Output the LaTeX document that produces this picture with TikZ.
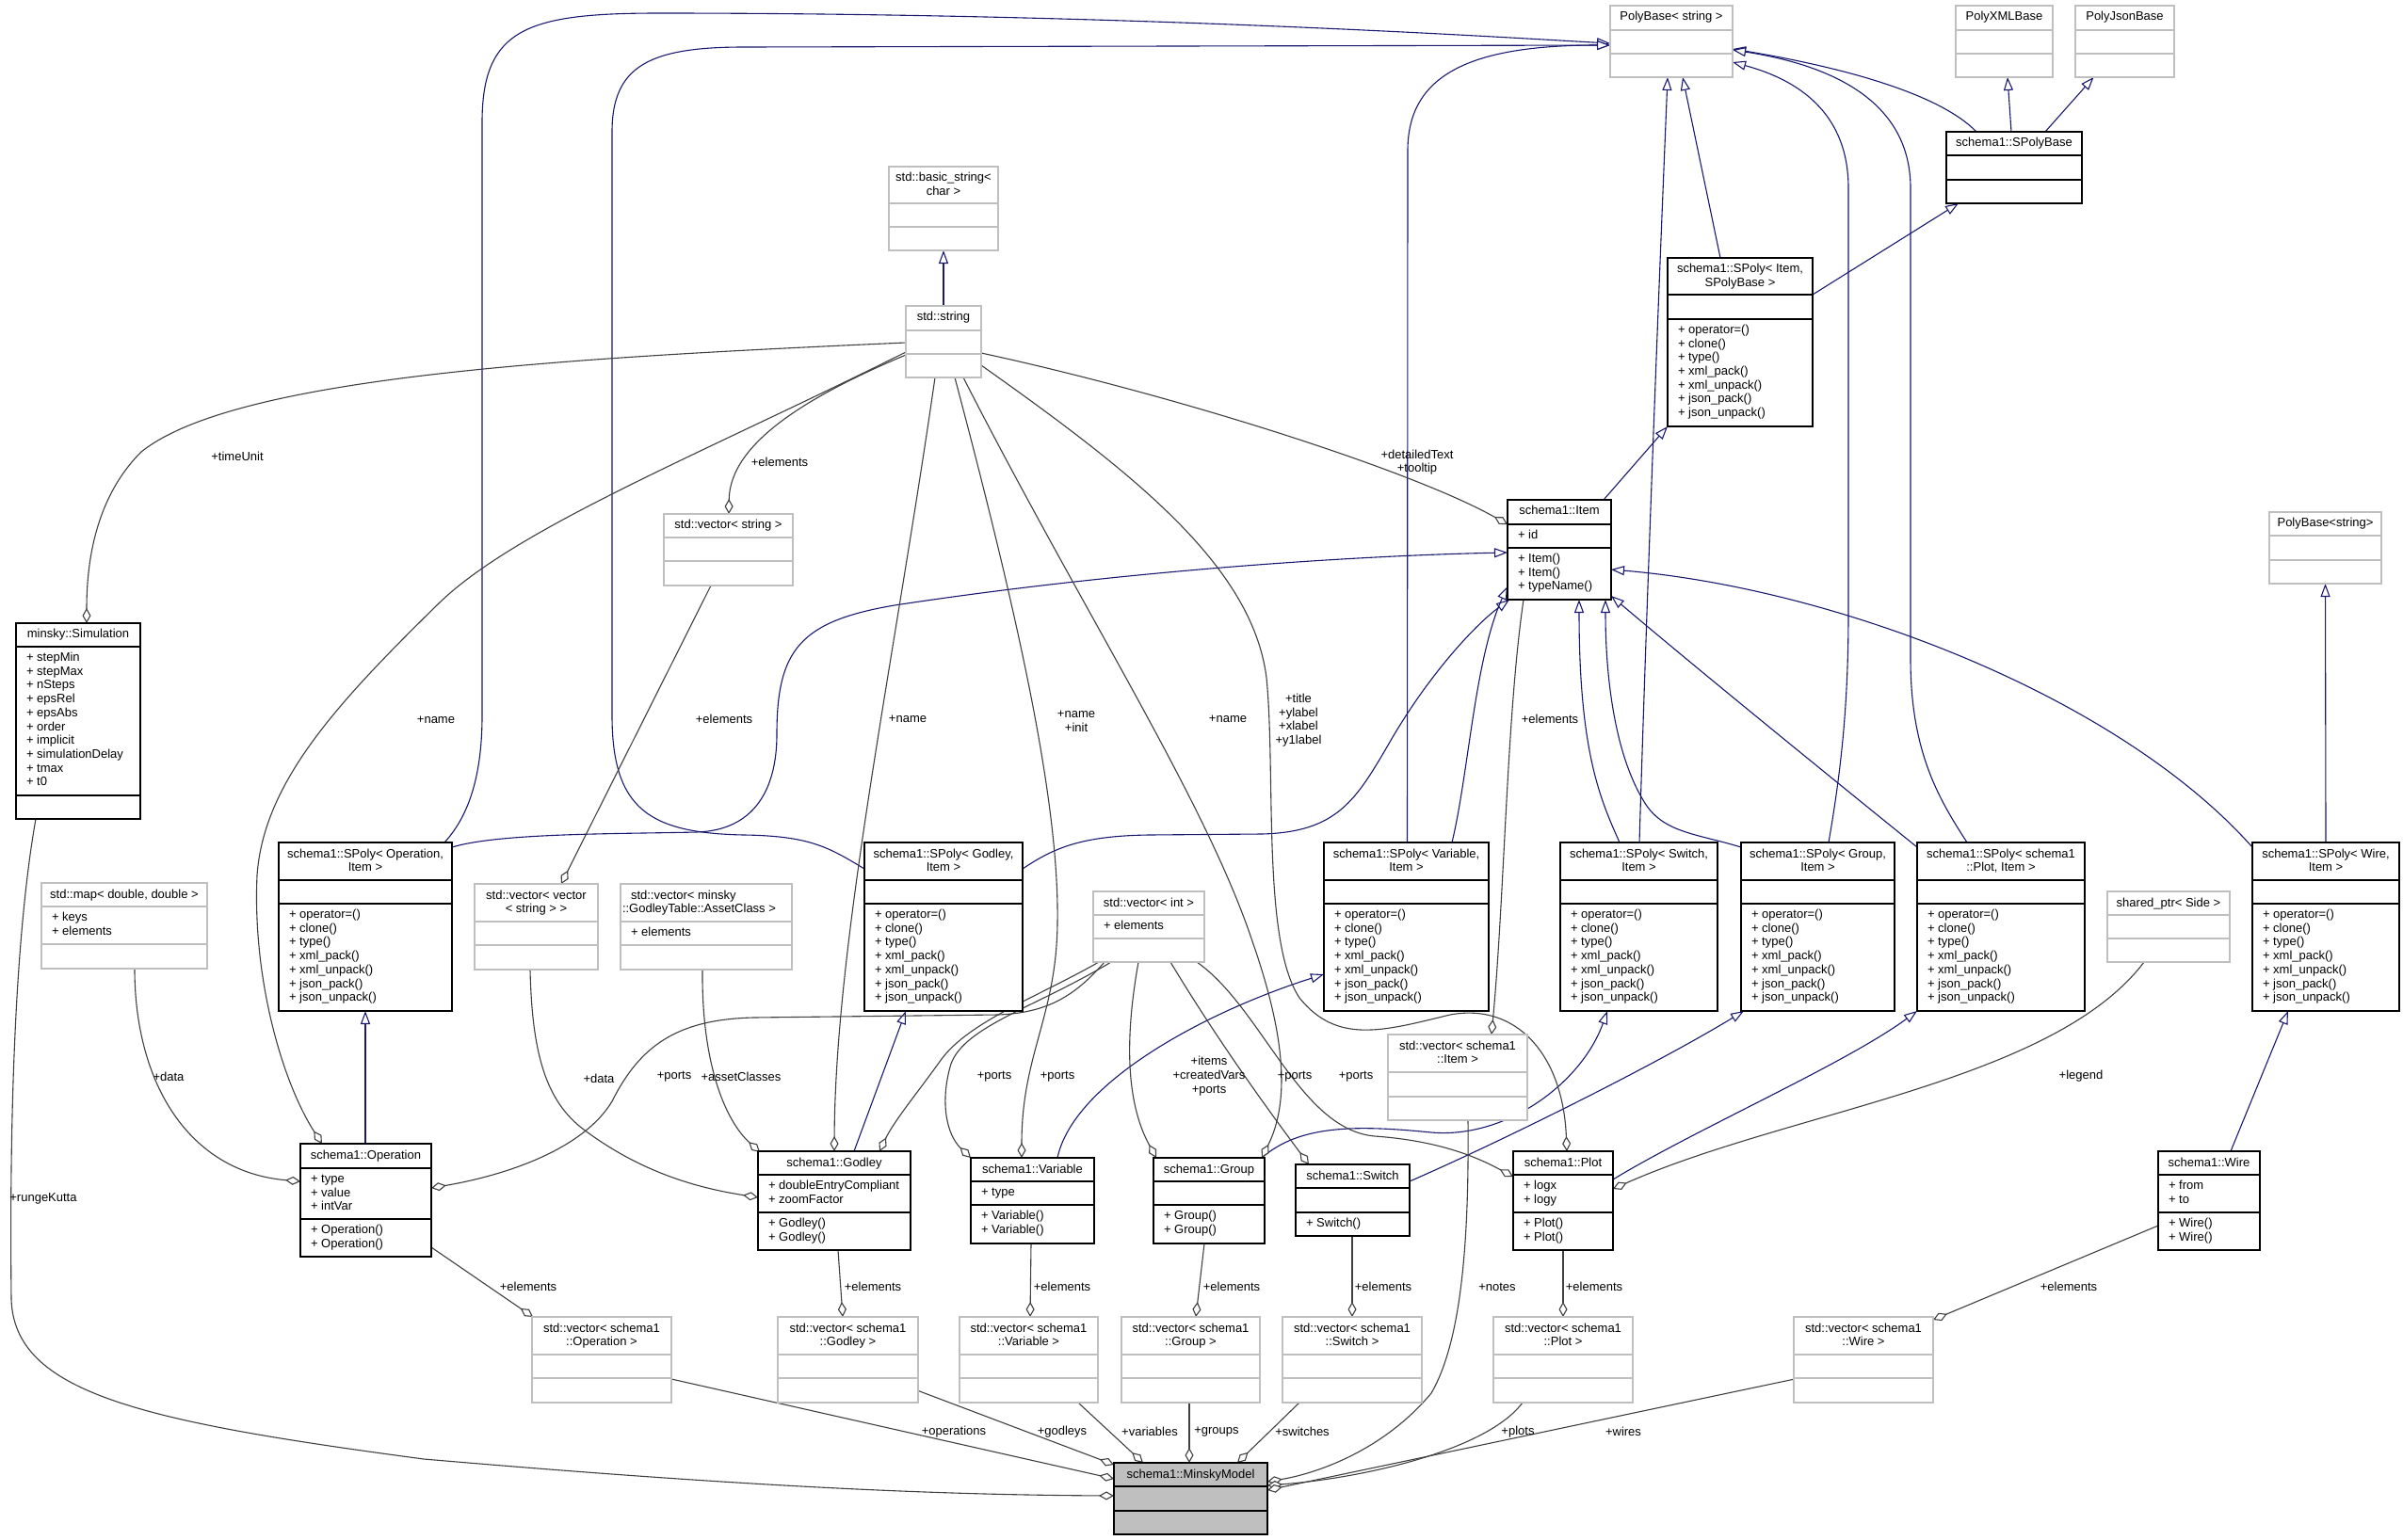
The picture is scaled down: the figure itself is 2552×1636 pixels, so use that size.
\documentclass[tikz,border=0pt]{standalone}
\usepackage{fontspec}
\setmainfont{Liberation Sans}
\usetikzlibrary{arrows.meta}
\definecolor{navy}{HTML}{191970}
\definecolor{egray}{HTML}{404040}
\definecolor{bgray}{HTML}{BFBFBF}
\pgfdeclarelayer{bglayer}
\pgfdeclarelayer{edgelayer}
\pgfsetlayers{bglayer,edgelayer,main}
\newcommand{\ubox}[9]{%
  \pgfmathsetmacro{\ubh}{#6+#7+#8}%
  \node[#2, anchor=north west, minimum width=#5pt, minimum height=\ubh pt] (#1) at (#3,#4) {};
  \draw[#2sep] (#3,#4+#6) -- ++(#5,0);
  \draw[#2sep] (#3,#4+#6+#7) -- ++(#5,0);
  \node[anchor=north, align=center] (#1-t) at (#3+#5/2,#4+5.7) {\strut #9};
}
\newcommand{\utxt}[4]{\node[anchor=north west, align=left] (#1) at (#2+11,#3+5.2) {\strut #4};}
\newcommand{\umlSPm}{+ operator=()\\+ clone()\\+ type()\\+ xml\_pack()\\+ xml\_unpack()\\+ json\_pack()\\+ json\_unpack()}
\begin{document}
\begin{tikzpicture}[x=1pt,y=-1pt,
  every node/.style={font=\fontsize{13}{14.7}\selectfont, inner sep=0pt, outer sep=0pt},
  blk/.style={draw=black, line width=1.4pt, fill=white},
  blksep/.style={draw=black, line width=1.4pt},
  gry/.style={draw=bgray, line width=1.5pt, fill=white},
  grysep/.style={draw=bgray, line width=1.5pt},
  mmbox/.style={draw=black, line width=1.4pt, fill=bgray},
  mmboxsep/.style={draw=black, line width=1.4pt},
  inh/.style={draw=navy, line width=1.1pt, -{Triangle[length=14pt,width=10pt,fill=white]}},
  agg/.style={draw=egray, line width=1.1pt, -{Diamond[length=16pt,width=9pt,fill=white]}},
  lbl/.style={align=center}]
\begin{pgfonlayer}{bglayer}
\fill[white] (0,0) rectangle (2552,1636);
\end{pgfonlayer}
\useasboundingbox (0,0) rectangle (2552,1636);

% ---------------- boxes ----------------
\ubox{pbs}{gry}{1710}{6}{130}{26}{25}{25}{PolyBase< string >}
\ubox{pxml}{gry}{2077}{6}{103}{26}{25}{25}{PolyXMLBase}
\ubox{pjson}{gry}{2204}{6}{105}{26}{25}{25}{PolyJsonBase}
\ubox{spb}{blk}{2067}{140}{144}{25}{26}{25}{schema1::SPolyBase}
\ubox{spi}{blk}{1771}{274}{154}{39}{26}{114}{schema1::SPoly< Item,\\SPolyBase >}
\utxt{spi-m}{1771}{339}{\umlSPm}
\ubox{bstr}{gry}{944}{177}{116}{39}{25}{25}{std::basic\_string<\\char >}
\ubox{str}{gry}{962}{325}{80}{26}{25}{25}{std::string}
\ubox{vstr}{gry}{705}{546}{137}{25}{25}{26}{std::vector< string >}
\ubox{item}{blk}{1601}{531}{110}{26}{25}{55}{schema1::Item}
\utxt{item-a}{1601}{557}{+ id}
\utxt{item-m}{1601}{582}{+ Item()\\+ Item()\\+ typeName()}
\ubox{sim}{blk}{17}{662}{132}{25}{158}{25}{minsky::Simulation}
\utxt{sim-a}{17}{687}{+ stepMin\\+ stepMax\\+ nSteps\\+ epsRel\\+ epsAbs\\+ order\\+ implicit\\+ simulationDelay\\+ tmax\\+ t0}
\ubox{pbs2}{gry}{2410}{544}{119}{25}{26}{25}{PolyBase<string>}

\ubox{spop}{blk}{296}{895}{184}{40}{25}{114}{schema1::SPoly< Operation,\\Item >}
\utxt{spop-m}{296}{960}{\umlSPm}
\ubox{spgd}{blk}{918}{895}{168}{40}{25}{114}{schema1::SPoly< Godley,\\Item >}
\utxt{spgd-m}{918}{960}{\umlSPm}
\ubox{spvar}{blk}{1406}{895}{175}{40}{25}{114}{schema1::SPoly< Variable,\\Item >}
\utxt{spvar-m}{1406}{960}{\umlSPm}
\ubox{spsw}{blk}{1657}{895}{167}{40}{25}{114}{schema1::SPoly< Switch,\\Item >}
\utxt{spsw-m}{1657}{960}{\umlSPm}
\ubox{spgr}{blk}{1849}{895}{163}{40}{25}{114}{schema1::SPoly< Group,\\Item >}
\utxt{spgr-m}{1849}{960}{\umlSPm}
\ubox{spplot}{blk}{2036}{895}{178}{40}{25}{114}{schema1::SPoly< schema1\\::Plot, Item >}
\utxt{spplot-m}{2036}{960}{\umlSPm}
\ubox{spw}{blk}{2392}{895}{156}{40}{25}{114}{schema1::SPoly< Wire,\\Item >}
\utxt{spw-m}{2392}{960}{\umlSPm}

\ubox{map}{gry}{44}{938}{176}{25}{40}{26}{std::map< double, double >}
\utxt{map-a}{44}{963}{+ keys\\+ elements}
\ubox{vvs}{gry}{504}{939}{131}{40}{25}{26}{std::vector< vector\\< string > >}
\ubox{vac}{gry}{659}{939}{182}{40}{25}{26}{}
\node[anchor=north west, align=left] (vac-t2) at (661,944.7) {\strut\hspace{9pt}std::vector< minsky\\::GodleyTable::AssetClass >};
\utxt{vac-a}{659}{979}{+ elements}
\ubox{vint}{gry}{1161}{947}{118}{25}{25}{25}{std::vector< int >}
\utxt{vint-a}{1161}{972}{+ elements}
\ubox{vitem}{gry}{1474}{1099}{148}{40}{26}{25}{std::vector< schema1\\::Item >}
\ubox{shp}{gry}{2238}{947}{130}{25}{25}{25}{shared\_ptr< Side >}

\ubox{op}{blk}{319}{1215}{139}{26}{54}{40}{schema1::Operation}
\utxt{op-a}{319}{1241}{+ type\\+ value\\+ intVar}
\utxt{op-m}{319}{1295}{+ Operation()\\+ Operation()}
\ubox{gd}{blk}{805}{1223}{162}{25}{40}{40}{schema1::Godley}
\utxt{gd-a}{805}{1248}{+ doubleEntryCompliant\\+ zoomFactor}
\utxt{gd-m}{805}{1288}{+ Godley()\\+ Godley()}
\ubox{var}{blk}{1031}{1230}{131}{25}{25}{41}{schema1::Variable}
\utxt{var-a}{1031}{1255}{+ type}
\utxt{var-m}{1031}{1280}{+ Variable()\\+ Variable()}
\ubox{grp}{blk}{1225}{1230}{118}{25}{25}{41}{schema1::Group}
\utxt{grp-m}{1225}{1280}{+ Group()\\+ Group()}
\ubox{sw}{blk}{1376}{1237}{121}{25}{26}{25}{schema1::Switch}
\utxt{sw-m}{1376}{1288}{+ Switch()}
\ubox{plot}{blk}{1607}{1223}{106}{25}{40}{40}{schema1::Plot}
\utxt{plot-a}{1607}{1248}{+ logx\\+ logy}
\utxt{plot-m}{1607}{1288}{+ Plot()\\+ Plot()}
\ubox{wire}{blk}{2292}{1223}{108}{25}{40}{40}{schema1::Wire}
\utxt{wire-a}{2292}{1248}{+ from\\+ to}
\utxt{wire-m}{2292}{1288}{+ Wire()\\+ Wire()}

\ubox{vop}{gry}{565}{1399}{148}{40}{25}{26}{std::vector< schema1\\::Operation >}
\ubox{vgd}{gry}{826}{1399}{149}{40}{25}{26}{std::vector< schema1\\::Godley >}
\ubox{vvar}{gry}{1019}{1399}{147}{40}{25}{26}{std::vector< schema1\\::Variable >}
\ubox{vgrp}{gry}{1191}{1399}{147}{40}{25}{26}{std::vector< schema1\\::Group >}
\ubox{vsw}{gry}{1362}{1399}{148}{40}{25}{26}{std::vector< schema1\\::Switch >}
\ubox{vplot}{gry}{1586}{1399}{148}{40}{25}{26}{std::vector< schema1\\::Plot >}
\ubox{vwire}{gry}{1905}{1399}{148}{40}{25}{26}{std::vector< schema1\\::Wire >}
\ubox{mm}{mmbox}{1183}{1554}{163}{25}{26}{25}{schema1::MinskyModel}

% ---------------- edges ----------------
\begin{pgfonlayer}{edgelayer}
% inheritance
\draw[inh] ([shift={(32,0)}]spb.north west) .. controls (2060,100) and (1960,72) .. ([shift={(0,46)}]pbs.north east);
\draw[inh] ([shift={(-3,0)}]spb.north) -- ([shift={(3.5,0)}]pxml.south);
\draw[inh] ([shift={(33,0)}]spb.north) -- ([shift={(-33,0)}]pjson.south);
\draw[inh] ([shift={(0,39)}]spi.north east) -- ([shift={(13,0)}]spb.south west);
\draw[inh] ([shift={(56,0)}]spi.north west) -- ([shift={(77,0)}]pbs.south west);
\draw[inh] ([shift={(-8,0)}]item.north east) -- (spi.south west);
\draw[inh] ([shift={(-8,0)}]spop.north east) .. controls (495,870) and (512,830) .. (512,760) -- (512,130) .. controls (512,30) and (560,14) .. (700,14) .. controls (1200,14) and (1600,40) .. ([shift={(0,40)}]pbs.north west);
\draw[inh] ([shift={(0,28)}]spgd.north west) .. controls (880,900) and (860,888) .. (790,887) .. controls (690,885) and (650,860) .. (650,760) -- (650,140) .. controls (650,70) and (690,50) .. (790,50) -- ([shift={(0,42)}]pbs.north west);
\draw[inh] ([shift={(88.5,0)}]spvar.north west) -- (1495,160) .. controls (1495,80) and (1560,48) .. ([shift={(0,42)}]pbs.north west);
\draw[inh] ([shift={(84,0)}]spsw.north west) .. controls (1750,600) and (1762,300) .. ([shift={(61,0)}]pbs.south west);
\draw[inh] ([shift={(93,0)}]spgr.north west) .. controls (1955,820) and (1963,750) .. (1963,650) -- (1963,200) .. controls (1963,120) and (1910,85) .. ([shift={(0,-16)}]pbs.south east);
\draw[inh] ([shift={(53,0)}]spplot.north west) .. controls (2060,850) and (2029,800) .. (2029,700) -- (2029,200) .. controls (2029,110) and (1950,70) .. ([shift={(0,47)}]pbs.north east);
\draw[inh] (spw.north) -- (pbs2.south);
\draw[inh] ([shift={(0,5)}]spop.north east) .. controls (530,885) and (650,886) .. (740,884) .. controls (800,882) and (825,840) .. (825,780) .. controls (825,690) and (850,660) .. (950,643) .. controls (1200,605) and (1450,590) .. ([shift={(0,56)}]item.north west);
\draw[inh] ([shift={(0,28)}]spgd.north east) .. controls (1120,900) and (1150,888) .. (1220,887) -- (1340,886) .. controls (1420,884) and (1440,850) .. (1475,790) .. controls (1515,720) and (1565,665) .. ([shift={(2,0)}]item.south west);
\draw[inh] ([shift={(136,0)}]spvar.north west) .. controls (1560,820) and (1566,700) .. ([shift={(0,92)}]item.north west);
\draw[inh] ([shift={(63,0)}]spsw.north west) .. controls (1700,850) and (1677,800) .. ([shift={(76,0)}]item.south west);
\draw[inh] ([shift={(0,5)}]spgr.north west) .. controls (1800,885) and (1765,885) .. (1745,850) .. controls (1715,800) and (1705,720) .. ([shift={(104,0)}]item.south west);
\draw[inh] ([shift={(0,5)}]spplot.north west) .. controls (1900,790) and (1790,700) .. ([shift={(0,-4)}]item.south east);
\draw[inh] ([shift={(0,5)}]spw.north west) .. controls (2250,740) and (1950,625) .. ([shift={(0,74)}]item.north east);
\draw[inh] ([shift={(69,0)}]op.north west) -- ([shift={(92,0)}]spop.south west);
\draw[inh] ([shift={(102,0)}]gd.north west) -- ([shift={(44,0)}]spgd.south west);
\draw[inh] ([shift={(92,0)}]var.north west) .. controls (1140,1150) and (1280,1075) .. ([shift={(0,-39)}]spvar.south west);
\draw[inh] ([shift={(-3,0)}]grp.north east) .. controls (1380,1195) and (1440,1195) .. (1520,1203) .. controls (1600,1210) and (1680,1150) .. ([shift={(50,0)}]spsw.south west);
\draw[inh] ([shift={(0,18)}]sw.north east) .. controls (1600,1210) and (1760,1130) .. ([shift={(3,0)}]spgr.south west);
\draw[inh] ([shift={(0,30)}]plot.north east) .. controls (1800,1200) and (1960,1130) .. (spplot.south west);
\draw[inh] ([shift={(77,0)}]wire.north west) -- ([shift={(38,0)}]spw.south west);
\draw[inh] (str.north) -- (bstr.south);
% composition
\draw[agg] ([shift={(0,39)}]str.north west) .. controls (600,380) and (250,400) .. (150,480) .. controls (100,530) and (92,600) .. ([shift={(75,0)}]sim.north west);
\draw[agg] ([shift={(0,52)}]str.north west) .. controls (860,420) and (775,470) .. ([shift={(69,0)}]vstr.north west);
\draw[agg] ([shift={(0,49)}]str.north west) .. controls (750,480) and (550,560) .. (467,640) .. controls (360,745) and (280,830) .. (273,930) .. controls (268,1040) and (300,1150) .. ([shift={(23,0)}]op.north west);
\draw[agg] ([shift={(31,0)}]str.south west) .. controls (950,700) and (887,1000) .. ([shift={(81,0)}]gd.north west);
\draw[agg] ([shift={(52,0)}]str.south west) .. controls (1080,650) and (1125,850) .. (1123,980) .. controls (1122,1080) and (1085,1120) .. ([shift={(54,0)}]var.north west);
\draw[agg] ([shift={(61,0)}]str.south west) .. controls (1150,650) and (1280,850) .. (1330,1000) .. controls (1365,1100) and (1370,1170) .. ([shift={(-3,0)}]grp.north east);
\draw[agg] ([shift={(0,63)}]str.north east) .. controls (1200,500) and (1330,600) .. (1345,720) .. controls (1355,820) and (1340,1000) .. (1380,1060) .. controls (1420,1110) and (1470,1095) .. (1540,1078) .. controls (1610,1065) and (1660,1120) .. ([shift={(57,0)}]plot.north west);
\draw[agg] ([shift={(0,50)}]str.north east) .. controls (1250,420) and (1500,500) .. ([shift={(0,26)}]item.north west);
\draw[agg] ([shift={(50,0)}]vstr.south west) -- ([shift={(92,0)}]vvs.north west);
\draw[agg] ([shift={(59,0)}]vvs.south west) .. controls (565,1120) and (580,1170) .. (620,1200) .. controls (680,1245) and (740,1262) .. ([shift={(0,49)}]gd.north west);
\draw[agg] ([shift={(87,0)}]vac.south west) .. controls (745,1130) and (770,1190) .. ([shift={(2,1)}]gd.north west);
\draw[agg] ([shift={(99,0)}]map.south west) .. controls (143,1150) and (200,1245) .. ([shift={(0,40)}]op.north west);
\draw[agg] ([shift={(12,0)}]vint.south west) .. controls (1140,1060) and (1110,1076) .. (1060,1078) -- (800,1081) .. controls (720,1083) and (680,1110) .. (650,1170) .. controls (620,1220) and (540,1248) .. ([shift={(0,47)}]op.north east);
\draw[agg] ([shift={(6,0)}]vint.south west) .. controls (1100,1060) and (1030,1085) .. (1000,1125) .. controls (975,1160) and (950,1190) .. ([shift={(-33,0)}]gd.north east);
\draw[agg] ([shift={(19,0)}]vint.south west) .. controls (1100,1070) and (1025,1090) .. (1010,1130) .. controls (998,1170) and (1005,1205) .. (var.north west);
\draw[agg] ([shift={(48,0)}]vint.south west) .. controls (1195,1100) and (1195,1170) .. ([shift={(3,0)}]grp.north west);
\draw[agg] ([shift={(82,0)}]vint.south west) .. controls (1290,1100) and (1340,1170) .. ([shift={(14,0)}]sw.north west);
\draw[agg] ([shift={(110,0)}]vint.south west) .. controls (1340,1070) and (1380,1200) .. (1460,1207) .. controls (1530,1212) and (1570,1230) .. ([shift={(0,27)}]plot.north west);
\draw[agg] ([shift={(39,0)}]shp.south west) .. controls (2180,1150) and (1900,1180) .. ([shift={(0,40)}]plot.north east);
\draw[agg] ([shift={(17,0)}]item.south west) .. controls (1600,760) and (1598,950) .. ([shift={(110,0)}]vitem.north west);
\draw[agg] ([shift={(0,-10)}]op.south east) -- ([shift={(1,0)}]vop.north west);
\draw[agg] ([shift={(85,0)}]gd.south west) -- ([shift={(69,0)}]vgd.north west);
\draw[agg] ([shift={(64,0)}]var.south west) -- ([shift={(75,0)}]vvar.north west);
\draw[agg] ([shift={(54,0)}]grp.south west) -- ([shift={(79,0)}]vgrp.north west);
\draw[agg] ([shift={(60,0)}]sw.south west) -- ([shift={(74,0)}]vsw.north west);
\draw[agg] (plot.south) -- (vplot.north);
\draw[agg] ([shift={(0,79)}]wire.north west) -- ([shift={(0,3)}]vwire.north east);
\draw[agg] ([shift={(21,0)}]sim.south west) .. controls (15,1000) and (10,1200) .. (12,1380) .. controls (15,1480) and (150,1510) .. (450,1550) .. controls (800,1580) and (1000,1588) .. ([shift={(0,35)}]mm.north west);
\draw[agg] ([shift={(0,-25)}]vop.south east) -- ([shift={(0,17)}]mm.north west);
\draw[agg] ([shift={(-1,-13)}]vgd.south east) -- ([shift={(0,2)}]mm.north west);
\draw[agg] ([shift={(126,0)}]vvar.south west) -- ([shift={(31,0)}]mm.north west);
\draw[agg] ([shift={(72,0)}]vgrp.south west) -- ([shift={(80,0)}]mm.north west);
\draw[agg] ([shift={(18,0)}]vsw.south west) -- ([shift={(131,0)}]mm.north west);
\draw[agg] ([shift={(85,0)}]vitem.south west) .. controls (1560,1300) and (1555,1420) .. (1520,1480) .. controls (1470,1540) and (1400,1565) .. ([shift={(0,20)}]mm.north east);
\draw[agg] ([shift={(31,0)}]vplot.south west) .. controls (1580,1540) and (1450,1570) .. ([shift={(0,24)}]mm.north east);
\draw[agg] ([shift={(1,-25)}]vwire.south west) -- ([shift={(0,29)}]mm.north east);
\end{pgfonlayer}

% ---------------- labels ----------------
\node[lbl] (l1) at (252,485) {+timeUnit};
\node[lbl] (l2) at (828,491) {+elements};
\node[lbl] (l3) at (1505,491) {+detailedText\\+tooltip};
\node[lbl] (l4) at (463,765) {+name};
\node[lbl] (l5) at (769,764) {+elements};
\node[lbl] (l6) at (964,764) {+name};
\node[lbl] (l7) at (1143,766) {+name\\+init};
\node[lbl] (l8) at (1304,764) {+name};
\node[lbl] (l9) at (1379,765) {+title\\+ylabel\\+xlabel\\+y1label};
\node[lbl] (l10) at (1646,764) {+elements};
\node[lbl] (l11) at (179,1144) {+data};
\node[lbl] (l12) at (636,1146) {+data};
\node[lbl] (l13) at (716,1144) {+ports};
\node[lbl] (l14) at (787,1144) {+assetClasses};
\node[lbl] (l15) at (1056,1144) {+ports};
\node[lbl] (l16) at (1123,1144) {+ports};
\node[lbl] (l17) at (1284,1143) {+items\\+createdVars\\+ports};
\node[lbl] (l18) at (1375,1144) {+ports};
\node[lbl] (l19) at (1440,1144) {+ports};
\node[lbl] (l20) at (2210,1143) {+legend};
\node[lbl] (l21) at (46,1273) {+rungeKutta};
\node[lbl] (l22) at (561,1367) {+elements};
\node[lbl] (l23) at (927,1367) {+elements};
\node[lbl] (l24) at (1128,1367) {+elements};
\node[lbl] (l25) at (1308,1367) {+elements};
\node[lbl] (l26) at (1469,1367) {+elements};
\node[lbl] (l27) at (1693,1367) {+elements};
\node[lbl] (l28) at (1590,1367) {+notes};
\node[lbl] (l29) at (2197,1367) {+elements};
\node[lbl] (l30) at (1013,1521) {+operations};
\node[lbl] (l31) at (1128,1521) {+godleys};
\node[lbl] (l32) at (1221,1521) {+variables};
\node[lbl] (l33) at (1292,1521) {+groups};
\node[lbl] (l34) at (1383,1521) {+switches};
\node[lbl] (l35) at (1612,1521) {+plots};
\node[lbl] (l36) at (1724,1521) {+wires};
\end{tikzpicture}
\end{document}
